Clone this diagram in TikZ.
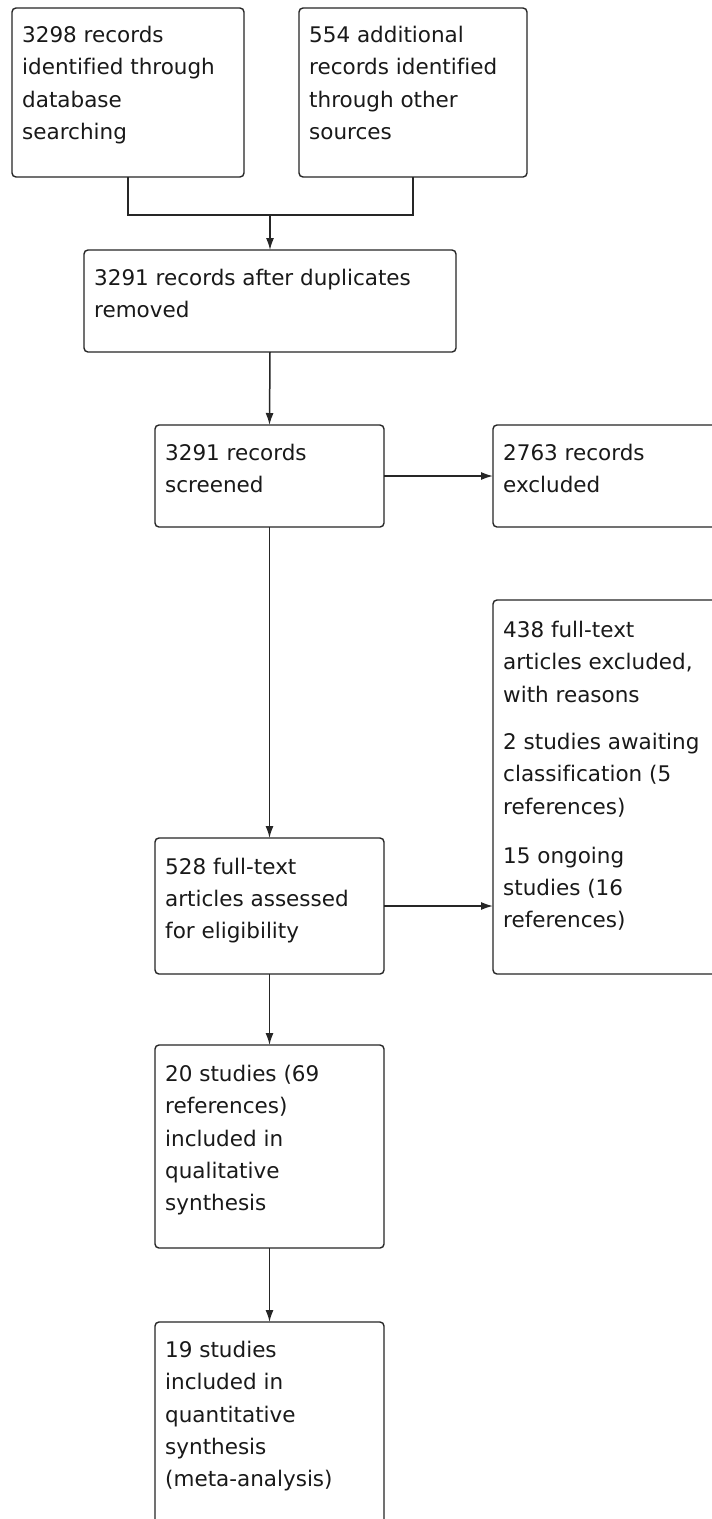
\documentclass[tikz,border=0pt]{standalone}
\usepackage{fontspec}
\setmainfont[Ligatures=NoCommon]{DejaVu Sans}
\usetikzlibrary{arrows.meta}
\tikzset{
  box/.style={draw=black!85, line width=1.4pt, rounded corners=4pt, anchor=north west, inner sep=0pt, outer sep=0pt},
  txt/.style={anchor=north west, inner sep=0pt, align=left, text=black!90, font=\fontsize{21.5}{32.3}\selectfont},
  arr/.style={draw=black!85, line width=1.5pt, -{Latex[length=12pt,width=8pt]}},
  conn/.style={draw=black!85, line width=1.5pt}
}
\newcommand{\fl}{\rule{0pt}{16.3pt}}
\begin{document}
\begin{tikzpicture}[x=1pt,y=-1pt]
\clip (0,0) rectangle (712,1519);
\fill[white] (0,0) rectangle (712,1519);
% boxes
\node[box, minimum width=232pt, minimum height=169pt] (b1) at (12,8) {};
\node[box, minimum width=228pt, minimum height=169pt] (b2) at (299,8) {};
\node[box, minimum width=372pt, minimum height=102pt] (b3) at (84,250) {};
\node[box, minimum width=229pt, minimum height=102pt] (b4) at (155,425) {};
\node[box, minimum width=260pt, minimum height=102pt] (b5) at (493,425) {};
\node[box, minimum width=260pt, minimum height=374pt] (b6) at (493,600) {};
\node[box, minimum width=229pt, minimum height=136pt] (b7) at (155,838) {};
\node[box, minimum width=229pt, minimum height=203pt] (b8) at (155,1045) {};
\node[box, minimum width=229pt, minimum height=260pt] (b9) at (155,1322) {};
% texts
\node[txt] (t1) at (22,26) {\fl 3298 records\\identified through\\database\\searching};
\node[txt] (t2) at (309,26) {\fl 554 additional\\records identified\\through other\\sources};
\node[txt] (t3) at (94,269) {\fl 3291 records after duplicates\\removed};
\node[txt] (t4) at (165,444) {\fl 3291 records\\screened};
\node[txt] (t5) at (503,444) {\fl 2763 records\\excluded};
\node[txt] (t6) at (503,621) {\fl 438 full-text\\articles excluded,\\with reasons\\[15pt]2 studies awaiting\\classification (5\\references)\\[17pt]15 ongoing\\studies (16\\references)};
\node[txt] (t7) at (165,857.7) {\fl 528 full-text\\articles assessed\\for eligibility};
\node[txt] (t8) at (165,1065) {\fl 20 studies (69\\references)\\included in\\qualitative\\synthesis};
\node[txt] (t9) at (165,1341) {\fl 19 studies\\included in\\quantitative\\synthesis\\(meta-analysis)};
% connectors
\coordinate (m) at (270,215);
\draw[conn] (b1.south) |- (m);
\draw[conn] (b2.south) |- (m);
\draw[arr] (m) -- (b3.north);
\draw[arr] (b3.south) -- (b4.north);
\draw[arr] (b4.east) -- (b5.west);
\draw[arr] (b4.south) -- (b7.north);
\draw[arr] (b7.east) -- (b7.east -| b6.west);
\draw[arr] (b7.south) -- (b8.north);
\draw[arr] (b8.south) -- (b9.north);
\end{tikzpicture}
\end{document}
